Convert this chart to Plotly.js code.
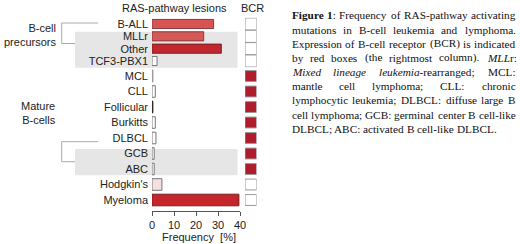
<!DOCTYPE html>
<html>
<head>
<meta charset="utf-8">
<script src="https://cdn.plot.ly/plotly-3.0.1.min.js"></script>
<style>html,body{margin:0;padding:0;background:#fff;}#chart{width:520px;height:244px;}</style>
</head>
<body>
<div id="chart"></div>
<script>
// ---- data ----
const categories = ['B-ALL', 'MLLr', 'Other', 'TCF3-PBX1', 'MCL', 'CLL', 'Follicular', 'Burkitts', 'DLBCL', 'GCB', 'ABC', "Hodgkin's", 'Myeloma'];
const groups = ['precursor', 'precursor', 'precursor', 'precursor', 'mature', 'mature', 'mature', 'mature', 'mature', 'mature', 'mature', 'mature', 'mature'];
const frequency = [28, 23.5, 31.5, 2.3, 0.4, 1.5, 0.4, 1.5, 1.8, 1.0, 1.0, 4.5, 39.5];
const bcrExpressed = [0, 0, 0, 0, 1, 1, 1, 1, 1, 1, 1, 0, 0];
const xTicks = [0, 10, 20, 30, 40];
const groupLabels = ['B-cell<br>precursors', 'Mature<br>B-cells'];

// ---- styles ----
const barColors = ['#d65454', '#d45858', '#c2272d', '#ffffff', '#ffffff', '#ffffff', '#7a1a1f', '#ffffff', '#ffffff', '#ffffff', '#ffffff', '#f7dfdf', '#c4262b'];
const barLines = ['#8a3a3a', '#8a3a3a', '#7a2020', '#777777', '#888888', '#777777', '#222222', '#777777', '#777777', '#777777', '#777777', '#777777', '#7a2020'];
const W = 520, H = 244;
const px = x => x / W, py = y => 1 - y / H;
const sans = 'Liberation Sans, Arial, Helvetica, sans-serif';
const serif = 'Liberation Serif, Times New Roman, serif';
const txt = '#222222';

function pick(arr, g) { return arr.filter((_, i) => groups[i] === g); }

const traces = [];
[['precursor', 'y2', 0.74, 0.98], ['mature', 'y', 0.75, 0.70]].forEach(([g, ya, bw, sw]) => {
  traces.push({
    type: 'bar', orientation: 'h', xaxis: 'x', yaxis: ya,
    y: pick(categories, g), x: pick(frequency, g), width: bw,
    marker: {color: pick(barColors, g), line: {color: pick(barLines, g), width: 1}},
    hoverinfo: 'x+y'
  });
  traces.push({
    type: 'bar', orientation: 'h', xaxis: 'x2', yaxis: ya,
    y: pick(categories, g), x: pick(bcrExpressed, g).map(() => 1), width: sw,
    marker: {color: pick(bcrExpressed, g).map(v => v ? '#b01c2c' : '#ffffff'), line: {color: '#999999', width: 1}},
    hoverinfo: 'y'
  });
});

// vertical layout in pixels
const matTop = 68.25, matBot = 211, preTop = 17.83, preBot = 67.17;
const nPre = pick(categories, 'precursor').length;
const matStep = 15.5;

const annotations = [];
const ann = (text, x, y, o) => annotations.push(Object.assign({text, x: px(x), y: py(y), xref: 'paper', yref: 'paper', xanchor: 'center', yanchor: 'middle', showarrow: false, borderpad: 0, borderwidth: 0, font: {family: sans, size: 11, color: txt}}, o || {}));
ann('RAS-pathway lesions', 174.5, 8);
ann('BCR', 252, 8);
ann('Frequency  [%]', 199, 236.5);
ann(groupLabels[0], 56, 34.5, {xanchor: 'right', align: 'right'});
ann(groupLabels[1], 56, 112.5, {xanchor: 'right', align: 'right'});

// justified caption
const captionLines = [
  ['<b>Figure</b>', '<b>1</b>:', 'Frequency', 'of', 'RAS-pathway', 'activating'],
  ['mutations', 'in', 'B-cell', 'leukemia', 'and', 'lymphoma.'],
  ['Expression', 'of', 'B-cell', 'receptor', '(BCR)', 'is', 'indicated'],
  ['by', 'red', 'boxes', '(the', 'rightmost', 'column).', '<i>MLL</i>r:'],
  ['<i>Mixed</i>', '<i>lineage</i>', '<i>leukemia</i>-rearranged;', 'MCL:'],
  ['mantle', 'cell', 'lymphoma;', 'CLL:', 'chronic'],
  ['lymphocytic', 'leukemia;', 'DLBCL:', 'diffuse', 'large', 'B'],
  ['cell', 'lymphoma;', 'GCB:', 'germinal', 'center', 'B', 'cell-like'],
  ['DLBCL;', 'ABC:', 'activated', 'B', 'cell-like', 'DLBCL.']
];
const capSize = 11.25, capX0 = 291.5, capX1 = 515.5, capY0 = 15.5, capStep = 14.15;
const ctx = document.createElement('canvas').getContext('2d');
function measure(word) {
  let w = 0; const re = /<(b|i)>(.*?)<\/\1>|([^<]+)/g; let m;
  while ((m = re.exec(word))) {
    const style = m[1] === 'i' ? 'italic ' : '', weight = m[1] === 'b' ? 'bold ' : '';
    ctx.font = style + weight + capSize + 'px "Liberation Serif"';
    w += ctx.measureText(m[2] !== undefined ? m[2] : m[3]).width;
  }
  return w;
}
ctx.font = capSize + 'px "Liberation Serif"';
const spaceW = ctx.measureText(' ').width;
captionLines.forEach((words, li) => {
  const ws = words.map(measure);
  const total = ws.reduce((a, b) => a + b, 0);
  const last = li === captionLines.length - 1;
  const gap = last ? spaceW : (capX1 - capX0 - total) / (words.length - 1);
  let x = capX0;
  words.forEach((wd, i) => {
    ann(wd, x, capY0 + li * capStep, {xanchor: 'left', font: {family: serif, size: capSize, color: '#111'}});
    x += ws[i] + gap;
  });
});

const line = (x0, y0, x1, y1) => ({type: 'line', xref: 'paper', yref: 'paper', x0: px(x0), y0: py(y0), x1: px(x1), y1: py(y1), line: {color: '#aaaaaa', width: 1}});
const rect = (x0, y0, x1, y1) => ({type: 'rect', xref: 'paper', yref: 'paper', x0: px(x0), y0: py(y0), x1: px(x1), y1: py(y1), fillcolor: '#e6e6e6', line: {width: 0}, layer: 'below'});
const shapes = [
  rect(75, 31.7, 237.5, 67.7), rect(75, 149, 237.5, 175.2),
  line(61.7, 23, 98, 23), line(61.7, 23, 61.7, 43.5), line(61.7, 43.5, 75, 43.5),
  line(61.7, 141.7, 98, 141.7), line(61.7, 141.7, 61.7, 161.7), line(61.7, 161.7, 75, 161.7)
];

const yCommon = {type: 'category', showline: false, showgrid: false, zeroline: false, ticks: '', anchor: 'x', fixedrange: true,
  tickmode: 'array', ticklabelstandoff: 3, tickfont: {family: sans, size: 11, color: txt}};

const layout = {
  width: W, height: H, margin: {l: 0, r: 0, t: 0, b: 0},
  paper_bgcolor: '#ffffff', plot_bgcolor: 'rgba(0,0,0,0)',
  showlegend: false, barmode: 'overlay', font: {family: sans, size: 11, color: txt},
  xaxis: {domain: [px(152), px(240)], range: [0, 40], tickmode: 'array', tickvals: xTicks, ticks: 'outside', ticklen: 4, tickcolor: '#555',
    showline: true, linecolor: '#555', linewidth: 1, showgrid: false, zeroline: false, anchor: 'y',
    tickfont: {family: sans, size: 11, color: txt}},
  xaxis2: {domain: [px(245), px(256.5)], range: [0, 1], visible: false, anchor: 'y'},
  yaxis: Object.assign({}, yCommon, {domain: [py(matBot), py(matTop)], range: [(matBot - matTop) / matStep - 0.5, -0.5],
    tickvals: pick(categories, 'mature'), ticktext: pick(categories, 'mature')}),
  yaxis2: Object.assign({}, yCommon, {domain: [py(preBot), py(preTop)], range: [nPre - 0.5, -0.5],
    tickvals: pick(categories, 'precursor'), ticktext: pick(categories, 'precursor')}),
  shapes, annotations
};

Plotly.newPlot('chart', traces, layout, {displayModeBar: false, staticPlot: true});
</script>
</body>
</html>
